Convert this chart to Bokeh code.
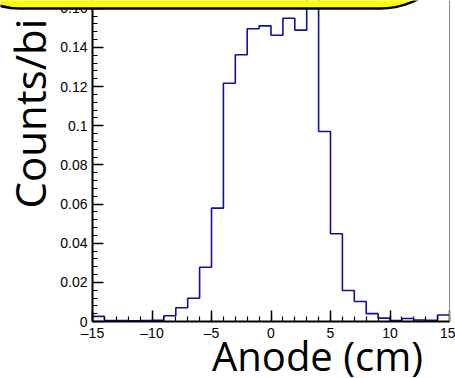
from bokeh.plotting import figure
from bokeh.models import (Range1d, SingleIntervalTicker, CustomJSTickFormatter, BoxAnnotation,
                          Label, LinearAxis)
from bokeh.embed import file_html
from bokeh.resources import INLINE
import math

# Histogram data: 1 cm bins from -15 to 15
bin_edges = list(range(-15, 16))
counts = [0.0026, 0.0005, 0.0005, 0.0004, 0.0005, 0.0006, 0.0029, 0.0070, 0.0119, 0.0277,
          0.0579, 0.1217, 0.1362, 0.1495, 0.1510, 0.1462, 0.1549, 0.1488, 0.1720, 0.0970,
          0.0448, 0.0158, 0.0102, 0.0040, 0.0017, 0.0005, 0.0015, 0.0008, 0.0006, 0.0033]
x_label = "Anode (cm)"
y_label = "Counts/bi"

W, H = 455, 378
# frame covers the whole canvas; axes are placed at fixed data locations
FL, FR, FB = 92.0, 449.0, 321.0          # pixel positions of x=-15, x=15 and y=0
kx = (FR - FL) / 30.0
ky = 1958.0
x_start = -15 - FL / kx
x_end = 15 + (W - FR) / kx
y_end = FB / ky
y_start = -(H - FB) / ky

def cx(px):
    return x_start + px / kx

def cy(py):
    return y_end - py / ky

p = figure(width=W, height=H, output_backend="svg", toolbar_location=None,
           x_range=Range1d(x_start, x_end), y_range=Range1d(y_start, y_end),
           x_axis_location=None, y_axis_location=None,
           min_border=0, min_border_left=0, min_border_right=0,
           min_border_top=0, min_border_bottom=0)
p.background_fill_color = "white"
p.border_fill_color = "white"
p.outline_line_color = None
p.xgrid.visible = False
p.ygrid.visible = False

sx = bin_edges
sy = counts + [counts[-1]]
p.step(x=sx, y=sy, mode="after", line_color="#10109c", line_width=1.6)

xaxis = LinearAxis(fixed_location=0, bounds=(-15, 15),
                   ticker=SingleIntervalTicker(interval=5, num_minor_ticks=5))
yaxis = LinearAxis(fixed_location=-15, bounds=(0, y_end),
                   ticker=SingleIntervalTicker(interval=0.02, num_minor_ticks=5))
raxis = LinearAxis(fixed_location=15, bounds=(0, y_end))

for ax in (xaxis, yaxis):
    ax.axis_line_color = "black"
    ax.axis_line_width = 2
    ax.major_tick_in = 11
    ax.major_tick_out = 0
    ax.minor_tick_in = 5
    ax.minor_tick_out = 0
    ax.major_tick_line_color = "black"
    ax.minor_tick_line_color = "black"
    ax.major_tick_line_width = 1.5
    ax.minor_tick_line_width = 1.2
    ax.major_label_text_font = "Liberation Sans"
    ax.major_label_text_font_size = "14px"
    ax.major_label_text_color = "black"

xaxis.formatter = CustomJSTickFormatter(code="return tick < 0 ? '\u2013' + Math.abs(tick).toFixed(0) : tick.toFixed(0);")
yaxis.formatter = CustomJSTickFormatter(code="return parseFloat(tick.toFixed(4)).toString();")
xaxis.major_label_standoff = 3
yaxis.major_label_standoff = 5

raxis.axis_line_color = "#8a8a8a"
raxis.axis_line_width = 1
raxis.major_tick_line_color = None
raxis.minor_tick_line_color = None
raxis.major_label_text_color = None

p.add_layout(xaxis, "below")
p.add_layout(yaxis, "left")
p.add_layout(raxis, "right")

# axis titles
p.add_layout(Label(x=cx(317), y=cy(354.5), text=x_label, text_font="Open Sans",
                   text_font_size="40px", text_align="center", text_baseline="alphabetic",
                   text_color="black"))
p.add_layout(Label(x=cx(29), y=cy(208), text=y_label, text_font="Open Sans",
                   text_font_size="42px", text_align="left", text_baseline="alphabetic",
                   angle=math.pi / 2, text_color="black"))

# yellow title box edge at the top
p.add_layout(BoxAnnotation(left=cx(-60), right=cx(460), top=cy(-200), bottom=cy(8),
                           fill_color="yellow", fill_alpha=1.0,
                           line_color="black", line_width=2.5, line_alpha=1.0,
                           border_radius=80, level="overlay"))

open("out.html", "w").write(file_html(p, INLINE))
